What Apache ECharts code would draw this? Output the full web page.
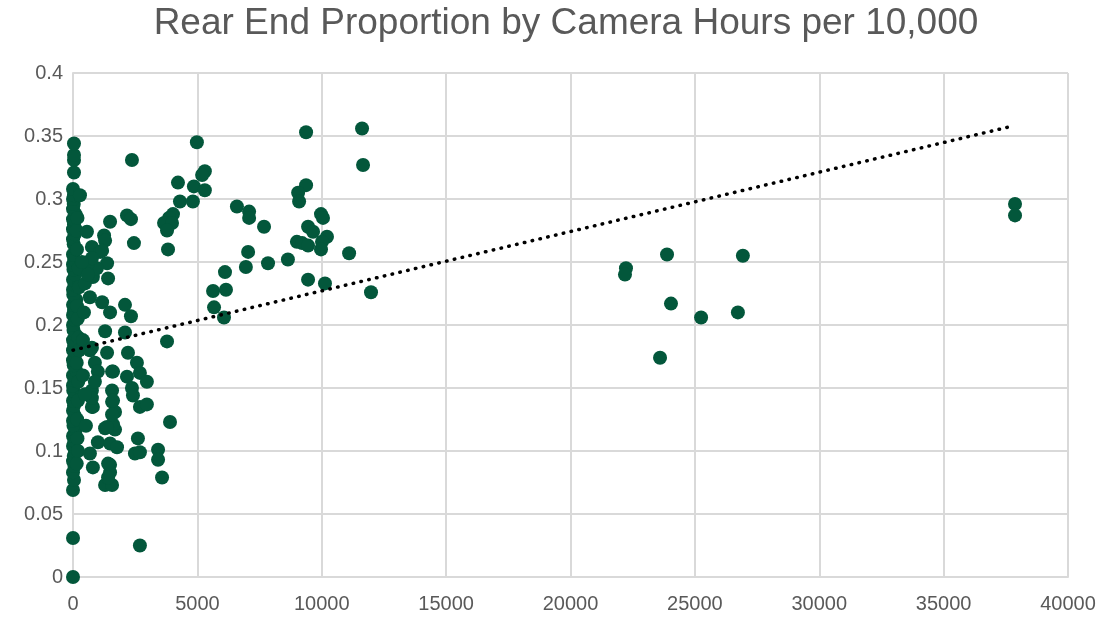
<!DOCTYPE html>
<html>
<head>
<meta charset="utf-8">
<script src="https://cdn.jsdelivr.net/npm/echarts@6/dist/echarts.min.js"></script>
<style>
  html, body { margin: 0; padding: 0; background: #fff; }
  #chart { width: 1107px; height: 620px; }
</style>
</head>
<body>
<div id="chart"></div>
<script>
// camera hours per 10,000 vs rear end proportion
// points sitting on / near the x = 0 column
const columnPoints = [
  [0, 0], [0, 0.031], [0, 0.069], [40, 0.077], [0, 0.083], [60, 0.088], [0, 0.092], [30, 0.096],
  [80, 0.100], [0, 0.104], [50, 0.108], [0, 0.112], [100, 0.116], [20, 0.120], [0, 0.124],
  [70, 0.128], [0, 0.132], [40, 0.136], [0, 0.140], [90, 0.144], [10, 0.148], [0, 0.152],
  [60, 0.156], [0, 0.160], [120, 0.164], [30, 0.168], [0, 0.172], [80, 0.176], [0, 0.180],
  [50, 0.184], [0, 0.188], [110, 0.192], [20, 0.196], [0, 0.200], [70, 0.204], [0, 0.208],
  [40, 0.212], [0, 0.216], [130, 0.220], [10, 0.224], [0, 0.228], [60, 0.232], [0, 0.236],
  [90, 0.240], [20, 0.244], [0, 0.248], [50, 0.252], [0, 0.256], [120, 0.260], [30, 0.264],
  [0, 0.268], [70, 0.272], [0, 0.276], [40, 0.280], [0, 0.284], [100, 0.288], [0, 0.292],
  [30, 0.296], [0, 0.300], [40, 0.303], [0, 0.308], [40, 0.321], [40, 0.331], [40, 0.335],
  [40, 0.344], [200, 0.140], [220, 0.190], [180, 0.110], [240, 0.230], [160, 0.260],
  [150, 0.090], [170, 0.125], [210, 0.155], [150, 0.170], [190, 0.205], [160, 0.215],
  [230, 0.245], [140, 0.275], [180, 0.285], [200, 0.100], [250, 0.180]
];
// spread between 0 and 4000
const lowPoints = [
  [680, 0.180], [880, 0.170], [1000, 0.163], [1570, 0.163], [2210, 0.178], [2570, 0.170],
  [2690, 0.162], [2970, 0.155], [2170, 0.159], [760, 0.148], [1570, 0.148], [2370, 0.150],
  [2410, 0.144], [800, 0.135], [1570, 0.139], [1690, 0.131], [2690, 0.135], [2970, 0.137],
  [3900, 0.123], [1290, 0.118], [1690, 0.117], [2610, 0.110], [1000, 0.107], [1490, 0.106],
  [1770, 0.103], [680, 0.098], [2490, 0.098], [2690, 0.099], [3420, 0.101], [3420, 0.093],
  [800, 0.087], [1490, 0.089], [1490, 0.083], [3580, 0.079], [1290, 0.073], [1570, 0.073],
  [2690, 0.025], [560, 0.274], [1250, 0.271], [1290, 0.267], [760, 0.262], [1090, 0.258],
  [1370, 0.249], [800, 0.238], [1410, 0.237], [680, 0.222], [1170, 0.218], [1490, 0.210],
  [1290, 0.195], [400, 0.188], [760, 0.182], [1490, 0.282], [960, 0.245], [600, 0.249],
  [480, 0.233], [280, 0.303], [2090, 0.216], [2330, 0.207], [2090, 0.194], [1370, 0.178],
  [1610, 0.140], [2170, 0.287], [2330, 0.284], [2450, 0.265], [2370, 0.331], [3780, 0.187],
  [1610, 0.121], [1370, 0.119], [1570, 0.129], [760, 0.135], [1410, 0.090], [1410, 0.079],
  [880, 0.155], [1610, 0.163], [760, 0.142], [1170, 0.259], [760, 0.253], [600, 0.240],
  [400, 0.160], [520, 0.120], [440, 0.210], [360, 0.250], [480, 0.145]
];
// 3500 to 12000
const midPoints = [
  [4980, 0.345], [5300, 0.322], [5190, 0.319], [4220, 0.313], [4860, 0.310], [5300, 0.307],
  [4300, 0.298], [4820, 0.298], [4020, 0.288], [3860, 0.285], [3660, 0.281], [3980, 0.281],
  [3780, 0.275], [3820, 0.260], [6590, 0.294], [7080, 0.290], [7080, 0.285], [7680, 0.278],
  [7040, 0.258], [6950, 0.246], [7840, 0.249], [8640, 0.252], [6110, 0.242], [5630, 0.227],
  [6150, 0.228], [5670, 0.214], [6070, 0.206], [9370, 0.353], [11620, 0.356], [11660, 0.327],
  [9370, 0.311], [9050, 0.305], [9090, 0.298], [9970, 0.288], [10050, 0.285], [9450, 0.278],
  [9650, 0.274], [9000, 0.266], [9210, 0.265], [9450, 0.263], [10210, 0.270], [10010, 0.266],
  [9970, 0.260], [11100, 0.257], [9450, 0.236], [10130, 0.233], [11980, 0.226]
];
// far right
const highPoints = [
  [23880, 0.256], [22230, 0.245], [22190, 0.240], [26930, 0.255], [24040, 0.217],
  [25250, 0.206], [26730, 0.210], [23600, 0.174], [37870, 0.296], [37870, 0.287]
];
// linear trend line ends
const trendLine = [[0, 0.180], [37800, 0.358]];

const xTicks = { min: 0, max: 40000, interval: 5000 };
const yTicks = { min: 0, max: 0.4, interval: 0.05 };

const allPoints = columnPoints.concat(lowPoints, midPoints, highPoints);

const chart = echarts.init(document.getElementById('chart'));
chart.setOption({
  animation: false,
  title: {
    text: 'Rear End Proportion by Camera Hours per 10,000',
    left: 561,
    textAlign: 'center',
    top: 0,
    textStyle: {
      fontFamily: 'Liberation Sans',
      fontSize: 37,
      fontWeight: 'normal',
      color: '#595959'
    }
  },
  grid: { left: 73, right: 39, top: 73, bottom: 43 },
  xAxis: {
    type: 'value',
    min: xTicks.min,
    max: xTicks.max,
    interval: xTicks.interval,
    axisLine: { show: true, lineStyle: { color: '#d9d9d9', width: 2 } },
    axisTick: { show: false },
    splitLine: { show: true, lineStyle: { color: '#d9d9d9', width: 2 } },
    axisLabel: {
      fontFamily: 'Liberation Sans',
      fontSize: 20,
      color: '#595959',
      margin: 17,
      formatter: v => String(v)
    }
  },
  yAxis: {
    type: 'value',
    min: yTicks.min,
    max: yTicks.max,
    interval: yTicks.interval,
    axisLine: { show: true, lineStyle: { color: '#d9d9d9', width: 2 } },
    axisTick: { show: false },
    splitLine: { show: true, lineStyle: { color: '#d9d9d9', width: 2 } },
    axisLabel: {
      fontFamily: 'Liberation Sans',
      fontSize: 20,
      color: '#595959',
      margin: 10,
      formatter: v => String(Math.round(v * 100) / 100)
    }
  },
  series: [
    {
      type: 'scatter',
      data: allPoints,
      symbol: 'circle',
      symbolSize: 14,
      itemStyle: { color: '#03573b', opacity: 1 }
    },
    {
      type: 'line',
      data: trendLine,
      symbol: 'none',
      lineStyle: { color: '#000', width: 3.5, type: [0.5, 7.5], cap: 'round' },
      z: 5
    }
  ]
});
</script>
</body>
</html>
